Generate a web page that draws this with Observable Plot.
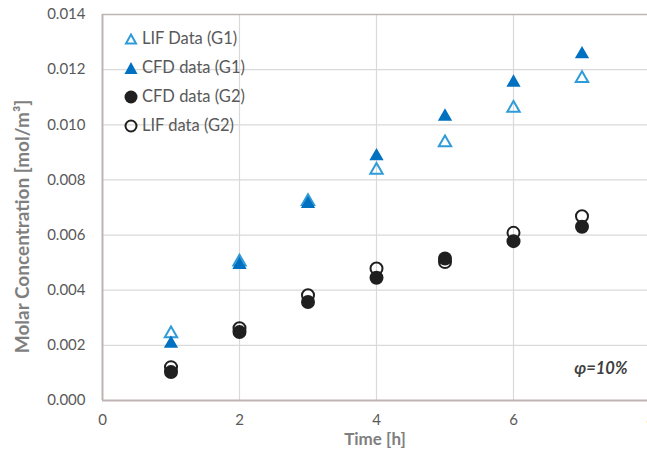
<!DOCTYPE html>
<html>
<head>
<meta charset="utf-8">
<script src="https://cdn.jsdelivr.net/npm/d3@7"></script>
<script src="https://cdn.jsdelivr.net/npm/@observablehq/plot@0.6"></script>
<style>
  html, body { margin: 0; padding: 0; background: #fff; }
  #chart { position: relative; width: 647px; height: 455px; font-family: Lato, "Open Sans", sans-serif; }
  #legend { position: absolute; left: 124px; top: 24px; color: #595959; font-size: 16.5px; line-height: 29px; }
  #legend .row { display: flex; align-items: center; height: 29px; }
  #legend svg { margin-right: 4px; }
</style>
</head>
<body>
<div id="chart"><div id="legend"></div></div>
<script>
// Sampling times (h)
const time = [1, 2, 3, 4, 5, 6, 7];

// Molar concentration [mol/m³], group G1
const lifG1 = [0.00242, 0.00503, 0.00722, 0.00835, 0.00935, 0.01060, 0.01168];
const cfdG1 = [0.00206, 0.00492, 0.00713, 0.00886, 0.01030, 0.01153, 0.01256];

// Molar concentration [mol/m³], group G2
const cfdG2 = [0.00103, 0.00248, 0.00357, 0.00445, 0.00515, 0.00578, 0.00630];
const lifG2 = [0.00121, 0.00262, 0.00382, 0.00479, 0.00502, 0.00608, 0.00668];

// Axis ticks
const xTicks = [0, 2, 4, 6, 8];
const yTicks = [0, 0.002, 0.004, 0.006, 0.008, 0.010, 0.012, 0.014];

const seriesNames = ["LIF Data (G1)", "CFD data (G1)", "CFD data (G2)", "LIF data (G2)"];

const rows = (vals) => time.map((t, i) => ({t, v: vals[i]}));

const lightBlue = "#2f9bd8";
const darkBlue = "#0070c0";
const black = "#1f1f1f";
const axisColor = "#bfb4b4";
const gridColor = "#d9d9d9";
const textColor = "#595959";

const chart = Plot.plot({
  width: 647,
  height: 455,
  marginLeft: 102,
  marginTop: 14,
  marginBottom: 55,
  marginRight: 0,
  style: {fontFamily: "Lato, 'Open Sans', sans-serif", background: "#fff"},
  x: {domain: [0, 8], range: [102, 650]},
  y: {domain: [0, 0.014]},
  marks: [
    Plot.ruleX(xTicks.filter(d => d > 0), {stroke: gridColor, strokeWidth: 1.2}),
    Plot.ruleY(yTicks.filter(d => d > 0 && d < 0.014), {stroke: gridColor, strokeWidth: 1.2}),
    Plot.ruleY([0.014], {stroke: axisColor, strokeWidth: 1.5}),
    Plot.ruleY([0], {stroke: axisColor, strokeWidth: 2}),
    Plot.ruleX([0], {stroke: axisColor, strokeWidth: 2}),
    Plot.axisX({ticks: xTicks, tickSize: 0, tickPadding: 14, tickFormat: d3.format("d"), label: null, fontSize: 15, color: textColor}),
    Plot.axisY({ticks: yTicks, tickSize: 0, tickPadding: 17, tickFormat: d3.format(".3f"), label: null, fontSize: 15, color: textColor}),
    Plot.text(["Time [h]"], {frameAnchor: "bottom", dy: 44, fontSize: 17, fontWeight: "bold", fill: "#7f7f7f"}),
    Plot.text(["Molar Concentration [mol/m³]"], {frameAnchor: "left", textAnchor: "middle", rotate: -90, dx: -80, dy: 19, fontSize: 19, fontWeight: "bold", fill: "#7f7f7f"}),
    Plot.text(["φ=10%"], {frameAnchor: "bottom-right", textAnchor: "end", dx: -20, dy: -27, fontSize: 16.5, fontWeight: "bold", fontStyle: "italic", fill: "#404040"}),
    Plot.dot(rows(lifG1), {x: "t", y: "v", symbol: "triangle", r: 4.6, stroke: lightBlue, strokeWidth: 2, fill: "none"}),
    Plot.dot(rows(cfdG1), {x: "t", y: "v", symbol: "triangle", r: 5.3, fill: darkBlue, stroke: "none"}),
    Plot.dot(rows(cfdG2), {x: "t", y: "v", r: 7, fill: black, stroke: "none"}),
    Plot.dot(rows(lifG2), {x: "t", y: "v", r: 6, fill: "none", stroke: black, strokeWidth: 2})
  ]
});
document.getElementById("chart").prepend(chart);
chart.style.position = "absolute";
chart.style.left = "0";
chart.style.top = "0";

// Legend entries drawn with small inline symbols
const symbols = [
  `<svg width="14" height="14"><path d="M7,2.5 L12,11.5 L2,11.5 Z" fill="none" stroke="${lightBlue}" stroke-width="2"/></svg>`,
  `<svg width="14" height="14"><path d="M7,1 L13.5,13 L0.5,13 Z" fill="${darkBlue}"/></svg>`,
  `<svg width="14" height="14"><circle cx="7" cy="7" r="6.5" fill="${black}"/></svg>`,
  `<svg width="14" height="14"><circle cx="7" cy="7" r="5.5" fill="none" stroke="${black}" stroke-width="2"/></svg>`
];
const legend = document.getElementById("legend");
legend.innerHTML = seriesNames.map((name, i) => `<div class="row">${symbols[i]}<span>${name}</span></div>`).join("");
</script>
</body>
</html>
